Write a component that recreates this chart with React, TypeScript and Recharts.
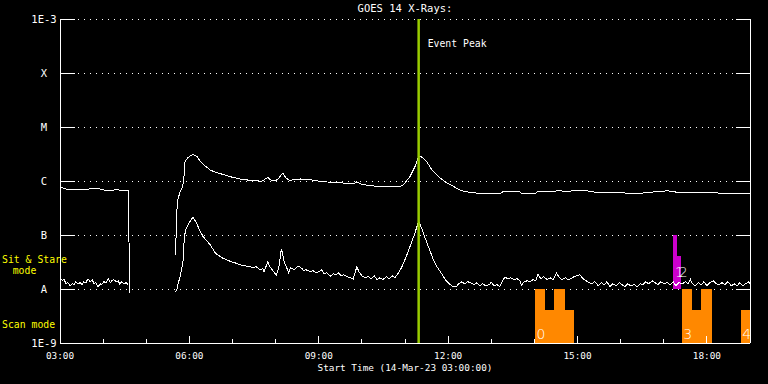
import React from 'react';
import {
  LineChart,
  Line,
  XAxis,
  YAxis,
  CartesianGrid,
  ReferenceLine,
  ReferenceArea,
} from 'recharts';

// time: minutes after 03:00 UT on 14-Mar-23, flux: W/m^2
const longChannel: [number, number | null][] = [
  [0, 7.7e-7], [5, 7.4e-7], [10, 7.0e-7], [20, 6.9e-7], [30, 7.0e-7], [40, 7.1e-7],
  [50, 7.2e-7], [56, 7.1e-7], [62, 6.8e-7], [68, 6.8e-7], [72, 6.6e-7], [76, 6.9e-7],
  [82, 6.8e-7], [90, 6.8e-7], [95, 6.8e-7], [97, 8.5e-9], [98, null],
  [161, 4.3e-8], [162, 2.4e-7], [164, 4.5e-7], [167, 6.3e-7], [170, 7.5e-7], [172, 9.7e-7],
  [174, 2.3e-6], [178, 2.7e-6], [181, 2.9e-6], [185, 3.1e-6], [191, 2.8e-6], [195, 2.3e-6],
  [202, 1.9e-6], [209, 1.6e-6], [216, 1.45e-6], [223, 1.37e-6], [237, 1.2e-6], [250, 1.09e-6],
  [264, 1.03e-6], [281, 0.99e-6], [289, 1.17e-6], [295, 1.0e-6], [301, 1.03e-6], [305, 1.15e-6],
  [310, 1.41e-6], [314, 1.15e-6], [319, 1.03e-6], [334, 1.09e-6], [348, 1.06e-6], [362, 0.98e-6],
  [376, 0.95e-6], [390, 0.92e-6], [410, 0.91e-6], [413, 0.97e-6], [417, 0.89e-6], [431, 0.82e-6],
  [452, 0.78e-6], [470, 0.78e-6], [476, 0.82e-6], [480, 0.92e-6], [487, 1.22e-6], [494, 1.86e-6],
  [499, 2.8e-6], [503, 2.8e-6], [510, 2.3e-6], [517, 1.65e-6], [523, 1.35e-6], [529, 1.14e-6],
  [538, 0.92e-6], [547, 0.8e-6], [557, 0.67e-6], [570, 0.615e-6], [589, 0.58e-6], [612, 0.58e-6],
  [616, 0.63e-6], [640, 0.63e-6], [643, 0.58e-6], [661, 0.58e-6], [664, 0.63e-6], [689, 0.63e-6],
  [691, 0.67e-6], [705, 0.635e-6], [717, 0.67e-6], [737, 0.65e-6], [749, 0.6e-6], [786, 0.6e-6],
  [790, 0.575e-6], [807, 0.58e-6], [811, 0.6e-6], [828, 0.63e-6], [846, 0.66e-6], [851, 0.635e-6],
  [871, 0.6e-6], [915, 0.6e-6], [943, 0.575e-6], [953, 0.6e-6], [960, 0.58e-6],
];

const shortChannel: [number, number | null][] = [
  [0, 1.6e-8], [3, 1.45e-8], [6, 1.5e-8], [8, 1.25e-8], [11, 1.31e-8], [14, 1.15e-8],
  [17, 1.25e-8], [20, 1.2e-8], [22, 1.365e-8], [25, 1.25e-8], [28, 1.31e-8], [31, 1.2e-8],
  [33, 1.365e-8], [36, 1.31e-8], [39, 1.55e-8], [42, 1.365e-8], [45, 1.49e-8], [47, 1.25e-8],
  [50, 1.31e-8], [53, 1.1e-8], [56, 1.25e-8], [58, 1.2e-8], [61, 1.365e-8], [64, 1.31e-8],
  [67, 1.55e-8], [70, 1.31e-8], [72, 1.42e-8], [75, 1.49e-8], [78, 1.365e-8], [81, 1.42e-8],
  [83, 1.25e-8], [86, 1.365e-8], [89, 1.25e-8], [92, 1.31e-8], [95, 1.2e-8], [96, null],
  [161, 0.89e-8], [163, 1.0e-8], [164, 1.2e-8], [167, 1.69e-8], [171, 3.07e-8], [173, 9.3e-8],
  [175, 1.25e-7], [179, 1.62e-7], [185, 2.15e-7], [189, 1.76e-7], [194, 1.25e-7], [199, 9.4e-8],
  [209, 6.6e-8], [216, 4.64e-8], [225, 3.8e-8], [237, 3.25e-8], [243, 3.07e-8], [250, 2.82e-8],
  [257, 2.7e-8], [264, 2.59e-8], [269, 2.48e-8], [273, 2.59e-8], [278, 2.28e-8], [282, 2.38e-8],
  [284, 2.09e-8], [289, 3.2e-8], [292, 2.59e-8], [295, 2.28e-8], [301, 1.79e-8], [305, 2.7e-8],
  [308, 5.6e-8], [312, 3.2e-8], [318, 2.03e-8], [321, 2.48e-8], [326, 2.28e-8], [330, 2.59e-8],
  [334, 2.55e-8], [337, 2.38e-8], [339, 2.18e-8], [342, 2.28e-8], [348, 2.09e-8], [352, 2.18e-8],
  [356, 2.0e-8], [360, 2.09e-8], [364, 2.28e-8], [367, 1.92e-8], [371, 2.0e-8], [376, 1.71e-8],
  [380, 1.92e-8], [384, 1.84e-8], [387, 2.0e-8], [391, 1.76e-8], [395, 1.84e-8], [399, 1.69e-8],
  [403, 1.64e-8], [408, 1.53e-8], [410, 1.92e-8], [413, 2.55e-8], [416, 2.09e-8], [420, 1.76e-8],
  [424, 1.62e-8], [429, 1.69e-8], [433, 1.55e-8], [437, 1.76e-8], [441, 1.49e-8], [445, 1.62e-8],
  [449, 1.49e-8], [454, 1.69e-8], [458, 1.55e-8], [462, 1.76e-8], [466, 1.62e-8], [471, 2.0e-8],
  [475, 2.45e-8], [481, 3.76e-8], [487, 6.15e-8], [493, 1.01e-7], [499, 1.79e-7], [503, 1.35e-7],
  [508, 8.8e-8], [515, 4.97e-8], [519, 3.64e-8], [524, 2.62e-8], [529, 2.12e-8], [536, 1.49e-8],
  [543, 1.2e-8], [547, 1.11e-8], [551, 1.1e-8], [555, 1.25e-8], [559, 1.365e-8], [563, 1.25e-8],
  [567, 1.365e-8], [571, 1.31e-8], [576, 1.2e-8], [580, 1.31e-8], [584, 1.15e-8], [588, 1.25e-8],
  [592, 1.15e-8], [597, 1.2e-8], [600, 1.33e-8], [604, 1.15e-8], [608, 1.2e-8], [612, 1.11e-8],
  [616, 1.42e-8], [619, 1.67e-8], [623, 1.55e-8], [627, 1.62e-8], [632, 1.49e-8], [636, 1.55e-8],
  [640, 1.42e-8], [642, 1.18e-8], [646, 1.365e-8], [650, 1.42e-8], [654, 1.365e-8], [658, 1.49e-8],
  [662, 1.42e-8], [665, 1.88e-8], [669, 1.55e-8], [673, 1.69e-8], [678, 1.49e-8], [682, 1.62e-8],
  [686, 1.49e-8], [691, 1.96e-8], [694, 1.69e-8], [698, 1.49e-8], [703, 1.62e-8], [707, 1.49e-8],
  [711, 1.55e-8], [715, 1.69e-8], [719, 1.76e-8], [723, 1.84e-8], [728, 1.55e-8], [732, 1.42e-8],
  [736, 1.31e-8], [740, 1.25e-8], [744, 1.365e-8], [749, 1.15e-8], [753, 1.31e-8], [757, 1.2e-8],
  [761, 1.365e-8], [765, 1.1e-8], [769, 1.25e-8], [774, 1.15e-8], [778, 1.31e-8], [782, 1.2e-8],
  [786, 1.1e-8], [790, 1.25e-8], [794, 1.15e-8], [799, 1.2e-8], [803, 1.1e-8], [807, 1.25e-8],
  [811, 1.2e-8], [815, 1.365e-8], [819, 1.25e-8], [824, 1.42e-8], [828, 1.31e-8], [832, 1.2e-8],
  [836, 1.365e-8], [840, 1.25e-8], [845, 1.31e-8], [849, 1.2e-8], [853, 1.365e-8], [857, 1.15e-8],
  [861, 1.31e-8], [866, 1.25e-8], [870, 1.365e-8], [874, 1.25e-8], [877, 1.52e-8], [880, 1.25e-8],
  [884, 1.15e-8], [888, 1.31e-8], [892, 1.2e-8], [896, 1.365e-8], [900, 1.15e-8], [904, 1.31e-8],
  [909, 1.42e-8], [913, 1.25e-8], [917, 1.2e-8], [921, 1.31e-8], [925, 1.2e-8], [929, 1.365e-8],
  [934, 1.15e-8], [938, 1.25e-8], [942, 1.15e-8], [946, 1.31e-8], [950, 1.15e-8], [954, 1.25e-8],
  [958, 1.365e-8], [960, 1.25e-8],
];

// Scan-mode intervals (start, end in minutes, top flux level, label)
const scanStart = [661, 675, 687, 703, 865, 879, 892, 947];
const scanEnd = [675, 687, 703, 715, 879, 892, 907, 960];
const scanTop = [1e-8, 4.1e-9, 1e-8, 4.1e-9, 1e-8, 4.1e-9, 1e-8, 4.1e-9];
const scanLabel = ['0', '', '', '', '3', '', '', '4'];

// Sit & Stare intervals
const stareStart = [853, 858];
const stareEnd = [858, 864];
const stareTop = [1e-7, 4.1e-8];
const stareLabel = ['1', '2'];

const yTickValues = [1e-9, 1e-8, 1e-7, 1e-6, 1e-5, 1e-4, 1e-3];
const yTickLabels = ['1E-9', 'A', 'B', 'C', 'M', 'X', '1E-3'];
const hourTicks = [0, 60, 120, 180, 240, 300, 360, 420, 480, 540, 600, 660, 720, 780, 840, 900, 960];
const xLabelTicks = [0, 180, 360, 540, 720, 900];
const xTickLabels = ['03:00', '06:00', '09:00', '12:00', '15:00', '18:00'];
const eventPeakTime = 499;

const MONO = 'DejaVu Sans Mono';
const WHITE = '#ffffff';

const longData = longChannel.map(([t, f]) => ({ t, f }));
const shortData = shortChannel.map(([t, f]) => ({ t, f }));

const BottomTick = (props: any) => {
  const { x, y, payload } = props;
  const v = payload.value;
  const li = xLabelTicks.indexOf(v);
  const major = v % 180 === 0;
  return (
    <g>
      <line x1={x} x2={x} y1={y} y2={y - (major ? 7 : 4)} stroke={WHITE} shapeRendering="crispEdges" />
      {li >= 0 && (
        <text x={x} y={y + 15.5} textAnchor="middle" fill={WHITE} fontSize={9.4} fontFamily={MONO}>
          {xTickLabels[li]}
        </text>
      )}
    </g>
  );
};

const TopTick = (props: any) => {
  const { x, y, payload } = props;
  const major = payload.value % 180 === 0;
  return <line x1={x} x2={x} y1={y} y2={y + (major ? 7 : 4)} stroke={WHITE} shapeRendering="crispEdges" />;
};

const LeftTick = (props: any) => {
  const { x, y, index } = props;
  return (
    <g>
      <line x1={x} x2={x + 15} y1={y} y2={y} stroke={WHITE} shapeRendering="crispEdges" />
      <text x={x - 16} y={y + 4} textAnchor="middle" fill={WHITE} fontSize={10.5} fontFamily={MONO}>
        {yTickLabels[index]}
      </text>
    </g>
  );
};

const RightTick = (props: any) => {
  const { x, y } = props;
  return <line x1={x - 14} x2={x} y1={y} y2={y} stroke={WHITE} shapeRendering="crispEdges" />;
};

const segLabel = (text: string, lift: number, dx: number) => (p: any) => {
  const vb = p.viewBox;
  if (!text || !vb) return null;
  return (
    <text
      x={vb.x + dx}
      y={vb.y + vb.height - lift}
      fill={WHITE}
      fontSize={14}
      fontWeight={200}
      fontFamily="DejaVu Sans"
    >
      {text}
    </text>
  );
};

const eventLabel = (p: any) => {
  const vb = p.viewBox;
  return (
    <text x={vb.x + 9} y={vb.y + 28} fill={WHITE} fontSize={9.8} fontFamily={MONO}>
      Event Peak
    </text>
  );
};

// draw later intervals first so each label stays above its neighbour's fill
const stareOrder = stareStart.map((_, i) => i).reverse();

export default function App() {
  return (
    <div style={{ position: 'absolute', left: 0, top: 0, width: 768, height: 384, background: '#000' }}>
      <LineChart width={768} height={384} margin={{ top: 19, right: 0, bottom: 0, left: 0 }}>
        <CartesianGrid
          yAxisId="l"
          xAxisId="b"
          vertical={false}
          stroke={WHITE}
          strokeDasharray="1 5"
          shapeRendering="crispEdges"
        />
        <XAxis
          xAxisId="b"
          dataKey="t"
          type="number"
          domain={[0, 960]}
          ticks={hourTicks}
          interval={0}
          tick={(p: any) => <BottomTick {...p} />}
          tickLine={false}
          tickSize={0}
          tickMargin={0}
          height={41}
          axisLine={{ stroke: WHITE, shapeRendering: 'crispEdges' }}
          allowDataOverflow
        />
        <XAxis
          xAxisId="t"
          orientation="top"
          dataKey="t"
          type="number"
          domain={[0, 960]}
          ticks={hourTicks}
          interval={0}
          tick={(p: any) => <TopTick {...p} />}
          tickLine={false}
          tickSize={0}
          tickMargin={0}
          height={0}
          axisLine={{ stroke: WHITE, shapeRendering: 'crispEdges' }}
          allowDataOverflow
        />
        <YAxis
          yAxisId="l"
          type="number"
          scale="log"
          domain={[1e-9, 1e-3]}
          ticks={yTickValues}
          interval={0}
          width={60}
          tick={(p: any) => <LeftTick {...p} />}
          tickLine={false}
          tickSize={0}
          tickMargin={0}
          axisLine={{ stroke: WHITE, shapeRendering: 'crispEdges' }}
          allowDataOverflow
        />
        <YAxis
          yAxisId="r"
          orientation="right"
          type="number"
          scale="log"
          domain={[1e-9, 1e-3]}
          ticks={yTickValues}
          interval={0}
          width={18}
          tick={(p: any) => <RightTick {...p} />}
          tickLine={false}
          tickSize={0}
          tickMargin={0}
          axisLine={{ stroke: WHITE, shapeRendering: 'crispEdges' }}
          allowDataOverflow
        />
        {scanStart.map((s, i) => (
          <ReferenceArea
            key={'scan' + i}
            xAxisId="b"
            yAxisId="l"
            x1={s}
            x2={scanEnd[i]}
            y1={1e-9}
            y2={scanTop[i]}
            fill="#ff8800"
            fillOpacity={1}
            stroke="none"
            shapeRendering="crispEdges"
            ifOverflow="visible"
            label={segLabel(scanLabel[i], 4, 1.5)}
          />
        ))}
        {stareOrder.map((i) => (
          <ReferenceArea
            key={'stare' + i}
            xAxisId="b"
            yAxisId="l"
            x1={stareStart[i]}
            x2={stareEnd[i]}
            y1={1e-8}
            y2={stareTop[i]}
            fill="#cc00cc"
            fillOpacity={1}
            stroke="none"
            shapeRendering="crispEdges"
            ifOverflow="visible"
            label={segLabel(stareLabel[i], 12, 2)}
          />
        ))}
        <Line
          xAxisId="b"
          yAxisId="l"
          data={longData}
          dataKey="f"
          type="linear"
          stroke={WHITE}
          strokeWidth={1}
          dot={false}
          activeDot={false}
          connectNulls={false}
          isAnimationActive={false}
          shapeRendering="crispEdges"
        />
        <Line
          xAxisId="b"
          yAxisId="l"
          data={shortData}
          dataKey="f"
          type="linear"
          stroke={WHITE}
          strokeWidth={1}
          dot={false}
          activeDot={false}
          connectNulls={false}
          isAnimationActive={false}
          shapeRendering="crispEdges"
        />
        <ReferenceLine
          xAxisId="b"
          yAxisId="l"
          x={eventPeakTime}
          stroke="#99cc00"
          strokeWidth={2.5}
          label={eventLabel}
        />
        <text x={405} y={12} textAnchor="middle" fill={WHITE} fontSize={10.5} fontFamily={MONO}>
          GOES 14 X-Rays:
        </text>
        <text x={405} y={370.5} textAnchor="middle" fill={WHITE} fontSize={9.4} fontFamily={MONO}>
          Start Time (14-Mar-23 03:00:00)
        </text>
        <text x={2} y={263} fill="#ffff00" fontSize={9.8} fontFamily={MONO}>
          Sit &amp; Stare
        </text>
        <text x={24.5} y={274} textAnchor="middle" fill="#ffff00" fontSize={9.8} fontFamily={MONO}>
          mode
        </text>
        <text x={2} y={327.5} fill="#ffff00" fontSize={9.8} fontFamily={MONO}>
          Scan mode
        </text>
      </LineChart>
    </div>
  );
}
